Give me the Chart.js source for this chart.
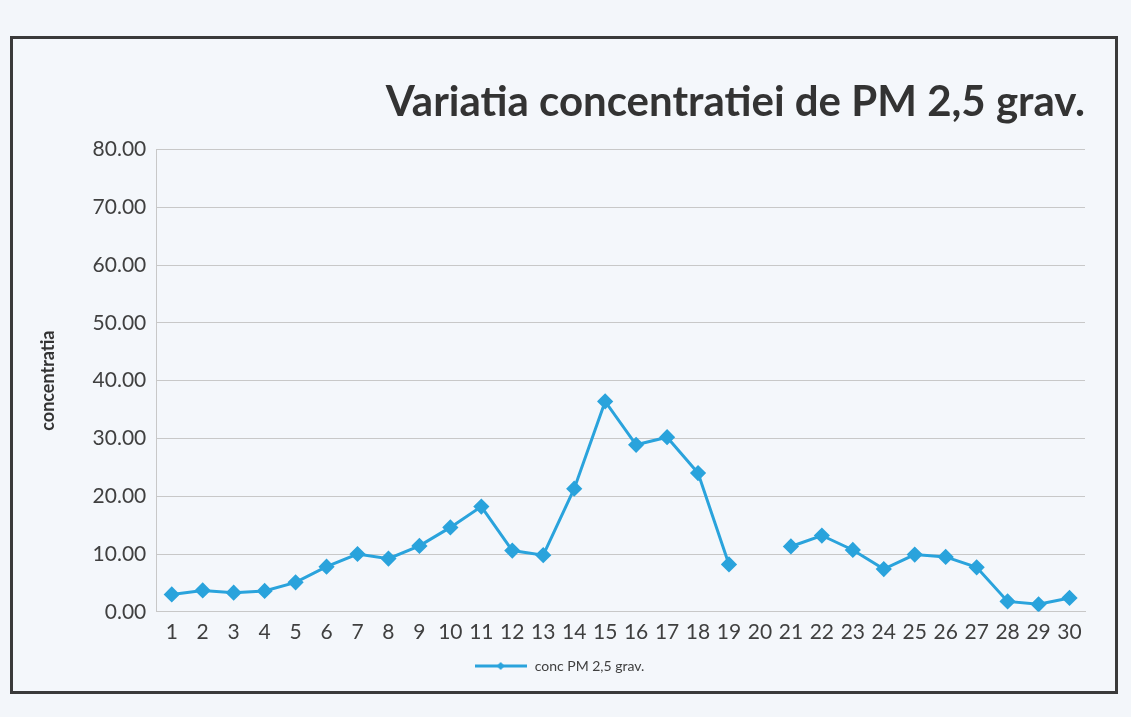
<!DOCTYPE html>
<html>
<head>
<meta charset="utf-8">
<script src="https://cdn.jsdelivr.net/npm/chart.js@4"></script>
<style>
  html, body { margin: 0; padding: 0; background: #f3f6fa; width: 1131px; height: 717px; overflow: hidden; }
  #frame { position: absolute; left: 10px; top: 36px; width: 1108px; height: 658px;
           border: 3px solid #3a3a3a; background: #f4f7fb; box-sizing: border-box; }
  #wrap { position: absolute; left: 0; top: 0; width: 1102px; height: 652px; }
</style>
</head>
<body>
<div id="frame"><div id="wrap"><canvas id="c"></canvas></div></div>
<script>
const chartTitle = "Variatia concentratiei de PM 2,5 grav.";
const yAxisTitle = "concentratia";
const seriesName = "conc PM 2,5 grav.";
const categories = ["1","2","3","4","5","6","7","8","9","10","11","12","13","14","15","16","17","18","19","20","21","22","23","24","25","26","27","28","29","30"];
const concValues = [3.0, 3.7, 3.3, 3.6, 5.1, 7.8, 10.0, 9.2, 11.4, 14.6, 18.2, 10.6, 9.8, 21.3, 36.4, 28.9, 30.2, 24.0, 8.2, null, 11.3, 13.2, 10.7, 7.4, 9.9, 9.5, 7.7, 1.8, 1.3, 2.4];
const yTicks = [0, 10, 20, 30, 40, 50, 60, 70, 80];

const lineColor = "#2aa3dc";

// legend symbol: line with diamond
const sym = document.createElement("canvas");
sym.width = 52; sym.height = 12;
(function(){
  const g = sym.getContext("2d");
  g.strokeStyle = lineColor; g.lineWidth = 3;
  g.beginPath(); g.moveTo(0, 6); g.lineTo(52, 6); g.stroke();
  g.fillStyle = lineColor;
  g.beginPath(); g.moveTo(26, 2); g.lineTo(30, 6); g.lineTo(26, 10); g.lineTo(22, 6); g.closePath(); g.fill();
})();

new Chart(document.getElementById("c"), {
  type: "line",
  data: {
    labels: categories,
    datasets: [{
      label: seriesName,
      data: concValues,
      borderColor: lineColor,
      backgroundColor: lineColor,
      borderWidth: 3,
      pointStyle: "rectRot",
      pointRadius: 6,
      pointBackgroundColor: lineColor,
      pointBorderColor: lineColor,
      spanGaps: false,
      tension: 0
    }]
  },
  options: {
    responsive: true,
    maintainAspectRatio: false,
    animation: false,
    layout: { padding: { left: 20, right: 30, top: 38, bottom: 8 } },
    plugins: {
      title: {
        display: true,
        text: chartTitle,
        align: "end",
        color: "#333333",
        font: { family: "Lato", size: 42, weight: "bold" },
        padding: { top: 0, bottom: 22 }
      },
      legend: {
        display: true,
        position: "bottom",
        labels: {
          usePointStyle: true,
          pointStyleWidth: 54,
          generateLabels: (chart) => [{
            text: seriesName,
            pointStyle: sym,
            fillStyle: lineColor,
            strokeStyle: lineColor,
            fontColor: "#404040",
            lineWidth: 0,
            datasetIndex: 0
          }],
          color: "#404040",
          font: { family: "Lato", size: 14 },
          padding: 6
        }
      },
      tooltip: { enabled: false }
    },
    scales: {
      x: {
        offset: true,
        grid: { display: false, drawTicks: false },
        border: { color: "#c8c8c8", width: 1 },
        ticks: {
          color: "#404040",
          font: { family: "Lato", size: 21 },
          maxRotation: 0, autoSkip: false, padding: 8
        }
      },
      y: {
        min: 0, max: 80,
        afterBuildTicks: (axis) => { axis.ticks = yTicks.map(v => ({ value: v })); },
        grid: { color: "#c8c8c8", lineWidth: 1, drawTicks: false },
        border: { color: "#c8c8c8", width: 1 },
        ticks: {
          color: "#404040",
          font: { family: "Lato", size: 21 },
          padding: 10,
          callback: (v) => Number(v).toFixed(2)
        },
        title: {
          display: true,
          text: yAxisTitle,
          color: "#333333",
          font: { family: "Lato", size: 18, weight: "bold" },
          padding: { bottom: 24 }
        }
      }
    }
  }
});
</script>
</body>
</html>
